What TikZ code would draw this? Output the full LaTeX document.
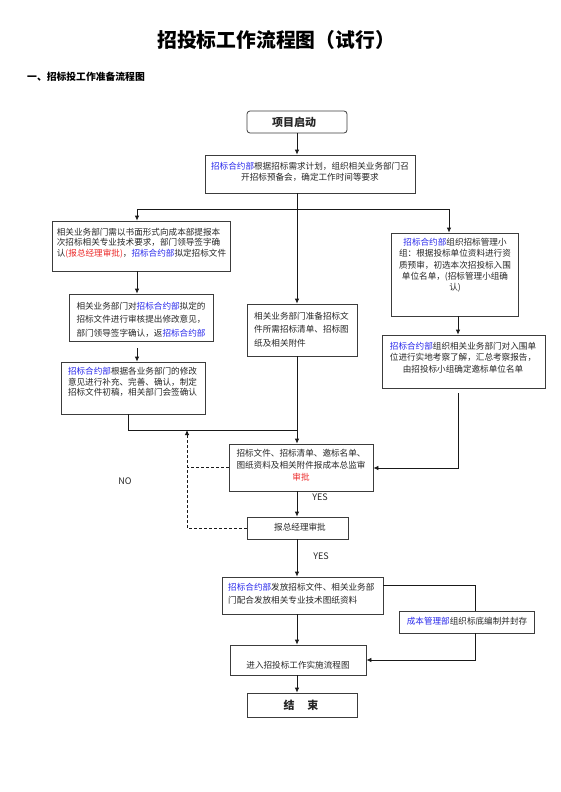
\documentclass[tikz,border=0pt]{standalone}
\usepackage{fontspec}
\setmainfont{Noto Sans CJK SC}
\usetikzlibrary{arrows.meta,calc}
\definecolor{hblue}{RGB}{40,40,235}
\definecolor{hred}{RGB}{235,40,40}
\definecolor{edgec}{RGB}{60,60,60}
\definecolor{linec}{RGB}{25,25,25}
\newcommand\hb[1]{\textcolor{hblue}{#1}}
\newcommand\hr[1]{\textcolor{hred}{#1}}
\begin{document}
\begin{tikzpicture}[x=1pt,y=-1pt,
  box/.style={draw=edgec, line width=0.8pt, inner sep=0pt},
  txt/.style={font=\fontsize{8.6}{10.7}\selectfont, inner sep=0pt, align=left, text=black!85},
  arr/.style={-{Latex[length=5pt,width=4.5pt]}, line width=0.8pt, draw=linec},
  ln/.style={line width=0.8pt, draw=linec},
  lab/.style={font=\fontsize{9}{10}\selectfont, inner sep=1pt, text=black!85},
]
\useasboundingbox (0,0) rectangle (560,792);

% title
\node[font=\fontsize{19.8}{21}\selectfont\bfseries, inner sep=0pt] (title) at (276,40) {招投标工作流程图（试行）};
\node[font=\fontsize{9.8}{11}\selectfont\bfseries, inner sep=0pt, anchor=west] (head) at (27,77) {一、招标投工作准备流程图};

% boxes
\node[box, rounded corners=3pt, minimum width=100, minimum height=22] (start) at (297,122) {};
\node[box, minimum width=210, minimum height=38] (n1) at (310,174) {};
\node[box, minimum width=178, minimum height=50] (n2) at (141,246) {};
\node[box, minimum width=144, minimum height=47] (n3) at (141,317.5) {};
\node[box, minimum width=144, minimum height=52] (n4) at (133,388) {};
\node[box, minimum width=110, minimum height=52] (n5) at (302,330) {};
\node[box, minimum width=127, minimum height=83] (n6) at (454.5,274.5) {};
\node[box, minimum width=163, minimum height=53] (n7) at (463.5,361.5) {};
\node[box, minimum width=144, minimum height=47] (n8) at (301,467.5) {};
\node[box, minimum width=101, minimum height=22] (n9) at (297.5,528) {};
\node[box, minimum width=161, minimum height=37] (n10) at (302.5,595.5) {};
\node[box, minimum width=135, minimum height=22] (n11) at (466.5,622) {};
\node[box, minimum width=136, minimum height=30] (n12) at (298,660) {};
\node[box, minimum width=110, minimum height=24] (n13) at (302,705) {};

% texts
\node[txt, font=\fontsize{11}{12}\selectfont\bfseries] (t0) at (294,122) {项目启动};
\node[txt, align=center] (t1) at (310,171.5) {\hb{招标合约部}根据招标需求计划，组织相关业务部门召\\开招标预备会，确定工作时间等要求};
\node[txt] (t2) at (141.5,243) {相关业务部门需以书面形式向成本部提报本\\次招标相关专业技术要求，部门领导签字确\\认\hr{(报总经理审批)}，\hb{招标合约部}拟定招标文件};
\node[txt, font=\fontsize{8.6}{13.5}\selectfont] (t3) at (141,319.5) {相关业务部门对\hb{招标合约部}拟定的\\招标文件进行审核提出修改意见，\\部门领导签字确认，返\hb{招标合约部}};
\node[txt] (t4) at (132.5,382) {\hb{招标合约部}根据各业务部门的修改\\意见进行补充、完善、确认，制定\\招标文件初稿，相关部门会签确认};
\node[txt, font=\fontsize{8.6}{13.5}\selectfont, anchor=west] (t5) at (254,329.5) {相关业务部门准备招标文\\件所需招标清单、招标图\\纸及相关附件};
\node[txt, align=center, font=\fontsize{8.6}{11.3}\selectfont] (t6) at (455,265.5) {\hb{招标合约部}组织招标管理小\\组：根据投标单位资料进行资\\质预审，初选本次招投标入围\\单位名单，(招标管理小组确\\认)};
\node[txt, align=center, font=\fontsize{8.6}{11.5}\selectfont] (t7) at (463,357.5) {\hb{招标合约部}组织相关业务部门对入围单\\位进行实地考察了解，汇总考察报告，\\由招投标小组确定邀标单位名单};
\node[txt, align=center, font=\fontsize{8.6}{12}\selectfont] (t8) at (301,465) {招标文件、招标清单、邀标名单、\\图纸资料及相关附件报成本总监审\\\hr{审批}};
\node[txt] (t9) at (300,527) {报总经理审批};
\node[txt, font=\fontsize{8.6}{13}\selectfont, anchor=west] (t10) at (228,593.5) {\hb{招标合约部}发放招标文件、相关业务部\\门配合发放相关专业技术图纸资料};
\node[txt] (t11) at (467,621.5) {\hb{成本管理部}组织标底编制并封存};
\node[txt] (t12) at (298,665) {进入招投标工作实施流程图};
\node[txt, font=\fontsize{11}{12}\selectfont\bfseries] (t13) at (301,705) {结\hspace{13pt}束};

% coordinates
\coordinate (j1) at (297,209);
\coordinate (xl) at (137,209);
\coordinate (xr) at (449,209);
\coordinate (j2) at (128,430);
\coordinate (j3) at (458,468);
\coordinate (j4) at (187,430);
\coordinate (j5) at (475,585);
\coordinate (j6) at (475,660);

% connectors
\draw[arr] (start.south -| j1) -- (j1 |- n1.north);
\draw[arr] (j1 |- n1.south) -- (j1 |- n5.north);
\draw[ln] (xl) -- (xr);
\draw[arr] (xl) -- (xl |- n2.north);
\draw[arr] (xr) -- (xr |- n6.north);
\draw[arr] (xl |- n2.south) -- (xl |- n3.north);
\draw[arr] ($(xl |- n3.south)+(0,7)$) -- (xl |- n4.north);
\draw[ln] (j2 |- n4.south) -- (j2) -- (j2 -| j1);
\draw[arr] (j1 |- n5.south) -- (j1 |- n8.north);
\draw[arr] (j3 |- n6.south) -- (j3 |- n7.north);
\draw[arr] ($(j3 |- n7.south)+(0,5)$) -- (j3) -- (j3 -| n8.east);
\draw[arr] (j1 |- n8.south) -- (j1 |- n9.north);
\draw[ln, dash pattern=on 3pt off 2pt] (n8.west) -- (n8.west -| j4);
\draw[arr, dash pattern=on 3pt off 2pt] (n9.west) -- (n9.west -| j4) -- (j4);
\draw[arr] (j1 |- n9.south) -- (j1 |- n10.north);
\draw[arr] (j1 |- n10.south) -- (j1 |- n12.north);
\draw[ln] (n10.east |- j5) -- (j5) -- (j5 |- n11.north);
\draw[arr] (j6 |- n11.south) -- (j6) -- (j6 -| n12.east);
\draw[arr] (j1 |- n12.south) -- (j1 |- n13.north);

% labels
\node[lab, fill=white, inner xsep=6pt] (yes1) at (320,497) {YES};
\node[lab] (yes2) at (321,556) {YES};
\node[lab] (no) at (125,481) {NO};
\end{tikzpicture}
\end{document}
